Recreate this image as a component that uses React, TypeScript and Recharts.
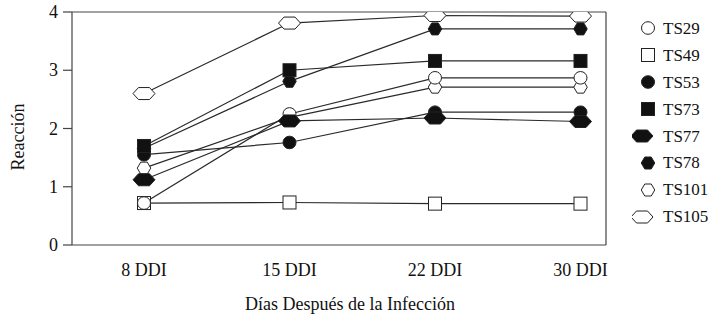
import React from 'react';
import { LineChart, Line, XAxis, YAxis, Label, CartesianGrid } from 'recharts';

// Reacción por tratamiento en cada fecha de evaluación
const days = ['8 DDI', '15 DDI', '22 DDI', '30 DDI'];
const ts29 = [0.72, 2.25, 2.87, 2.87];
const ts49 = [0.72, 0.73, 0.71, 0.71];
const ts53 = [1.55, 1.76, 2.28, 2.28];
const ts73 = [1.7, 3.0, 3.16, 3.16];
const ts77 = [1.12, 2.13, 2.18, 2.12];
const ts78 = [1.66, 2.81, 3.71, 3.71];
const ts101 = [1.32, 2.19, 2.71, 2.71];
const ts105 = [2.6, 3.81, 3.94, 3.93];
const yTicks = [0, 1, 2, 3, 4];

const FONT = 'Liberation Serif, Times New Roman, serif';
const INK = '#222';

type Shape = 'circle' | 'square' | 'hex' | 'wideHex';

const series: { key: string; values: number[]; shape: Shape; fill: string }[] = [
  { key: 'TS29', values: ts29, shape: 'circle', fill: '#fff' },
  { key: 'TS49', values: ts49, shape: 'square', fill: '#fff' },
  { key: 'TS53', values: ts53, shape: 'circle', fill: '#111' },
  { key: 'TS73', values: ts73, shape: 'square', fill: '#111' },
  { key: 'TS77', values: ts77, shape: 'wideHex', fill: '#111' },
  { key: 'TS78', values: ts78, shape: 'hex', fill: '#111' },
  { key: 'TS101', values: ts101, shape: 'hex', fill: '#fff' },
  { key: 'TS105', values: ts105, shape: 'wideHex', fill: '#fff' },
];

// order the lines are painted in (later ones sit on top)
const drawOrder = ['TS49', 'TS101', 'TS29', 'TS78', 'TS53', 'TS73', 'TS77', 'TS105'];

const data = days.map((day, i) => {
  const row: Record<string, string | number> = { day };
  series.forEach((s) => {
    row[s.key] = s.values[i];
  });
  return row;
});

function hexPoints(cx: number, cy: number, w: number, h: number, inset: number) {
  const l = cx - w / 2;
  const r = cx + w / 2;
  const t = cy - h / 2;
  const b = cy + h / 2;
  return `${l},${cy} ${l + inset},${t} ${r - inset},${t} ${r},${cy} ${r - inset},${b} ${l + inset},${b}`;
}

function Marker({ cx, cy, shape, fill }: { cx: number; cy: number; shape: Shape; fill: string }) {
  const common = { fill, stroke: INK, strokeWidth: 1 };
  if (shape === 'circle') return <ellipse cx={cx} cy={cy} rx={6.5} ry={6.3} {...common} />;
  if (shape === 'square') return <rect x={cx - 6.5} y={cy - 6.5} width={13} height={13} {...common} />;
  if (shape === 'hex') return <polygon points={hexPoints(cx, cy, 13.5, 12, 3.5)} {...common} />;
  return <polygon points={hexPoints(cx, cy, 22, 12, 5.5)} {...common} />;
}

const XTick = ({ x, y, payload }: any) => (
  <text x={x} y={y + 14} textAnchor="middle" fill="#111" fontFamily={FONT} fontSize={18}>
    {payload.value}
  </text>
);

const YTick = ({ x, y, payload }: any) => (
  <text x={x} y={y + 6} textAnchor="end" fill="#111" fontFamily={FONT} fontSize={18}>
    {payload.value}
  </text>
);

function LegendBox() {
  return (
    <div style={{ position: 'absolute', left: 632, top: 15, fontFamily: FONT, fontSize: 17, color: '#111' }}>
      {series.map((s) => {
        const wide = s.shape === 'wideHex';
        return (
          <div key={s.key} style={{ display: 'flex', alignItems: 'center', height: 26.9 }}>
            <svg width={30} height={26} style={{ display: 'block' }}>
              <Marker cx={wide ? 10 : 16} cy={13} shape={s.shape} fill={s.fill} />
            </svg>
            <span style={{ marginLeft: 1, lineHeight: '17px' }}>{s.key}</span>
          </div>
        );
      })}
    </div>
  );
}

export default function App() {
  const ordered = drawOrder.map((k) => series.find((s) => s.key === k)!);
  return (
    <div
      style={{ position: 'absolute', left: 0, top: 0, width: 720, height: 317, background: '#fff', fontFamily: FONT }}
    >
      <LineChart width={720} height={317} data={data} margin={{ top: 12, right: 114, left: 0, bottom: 0 }}>
        {/* frame: top and right edges of the plot box */}
        <CartesianGrid
          stroke="#444"
          strokeWidth={1.2}
          horizontalCoordinatesGenerator={({ offset }: any) => [offset.top]}
          verticalCoordinatesGenerator={({ offset }: any) => [offset.left + offset.width]}
        />
        <XAxis
          dataKey="day"
          height={72}
          padding={{ left: 72, right: 25.5 }}
          axisLine={{ stroke: '#444', strokeWidth: 1.2 }}
          tickLine={false}
          tickSize={0}
          tickMargin={17}
          tick={<XTick />}
        >
          <Label
            content={() => (
              <text x={350} y={310} textAnchor="middle" fill="#111" fontFamily={FONT} fontSize={18}>
                Días Después de la Infección
              </text>
            )}
          />
        </XAxis>
        <YAxis
          width={72}
          domain={[0, 4]}
          ticks={yTicks}
          allowDataOverflow
          axisLine={{ stroke: '#444', strokeWidth: 1.2 }}
          tickLine={{ stroke: '#444', strokeWidth: 1.2 }}
          tickSize={9}
          tickMargin={5}
          tick={<YTick />}
        >
          <Label
            content={() => (
              <text
                x={24}
                y={137}
                transform="rotate(-90 24 137)"
                textAnchor="middle"
                fill="#111"
                fontFamily={FONT}
                fontSize={18}
              >
                Reacción
              </text>
            )}
          />
        </YAxis>
        {ordered.map((s) => (
          <Line
            key={s.key}
            dataKey={s.key}
            type="linear"
            stroke="#2a2a2a"
            strokeWidth={1.2}
            isAnimationActive={false}
            activeDot={false}
            dot={(p: any) => (
              <Marker key={`${s.key}-${p.index}`} cx={p.cx} cy={p.cy} shape={s.shape} fill={s.fill} />
            )}
          />
        ))}
      </LineChart>
      <LegendBox />
    </div>
  );
}
